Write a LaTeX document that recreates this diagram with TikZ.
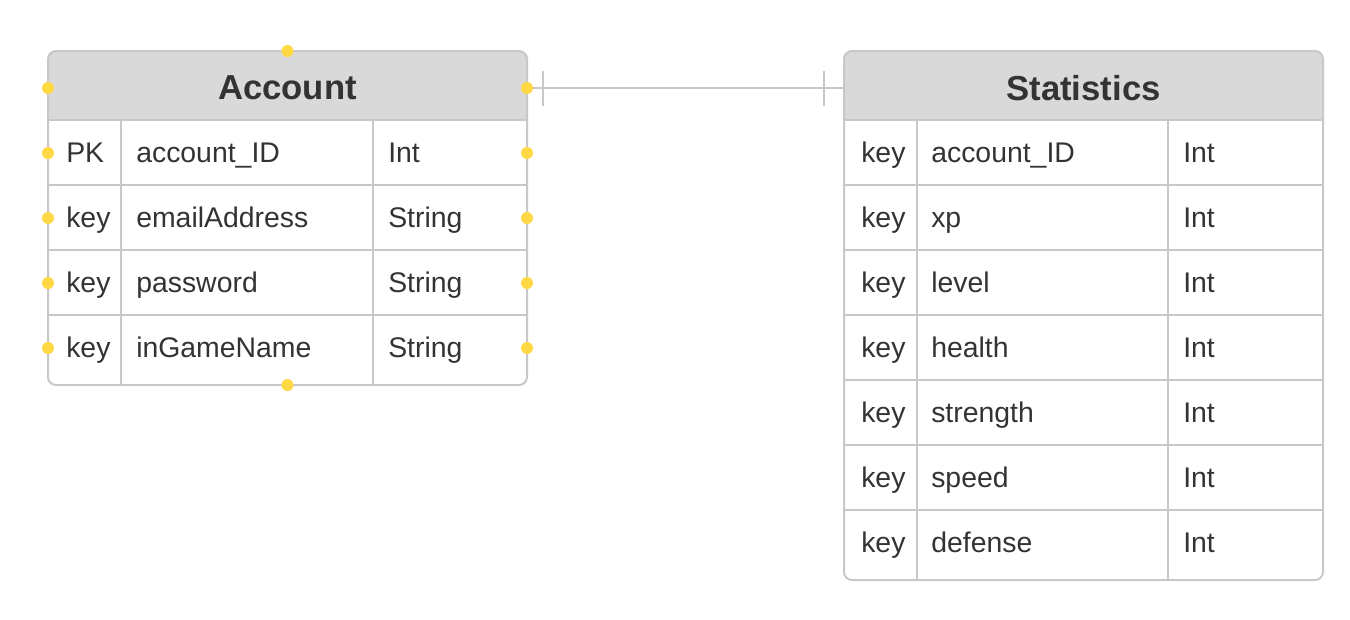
\documentclass[tikz,border=0pt]{standalone}
\usepackage{fontspec}
\setmainfont{Liberation Sans}

\definecolor{hdrgray}{HTML}{D9D9D9}
\definecolor{linegray}{HTML}{C8C8C8}
\definecolor{txtgray}{HTML}{333333}
\definecolor{dotyellow}{HTML}{FFD843}

\tikzset{
  frame/.style={draw=linegray, line width=1.5pt},
  link/.style={draw=linegray, line width=1.5pt},
  cell/.style={anchor=base west, text=txtgray, inner sep=0pt, font=\fontsize{21.3}{25}\selectfont},
  title/.style={text=txtgray, inner sep=0pt, minimum width=359.25pt, minimum height=51.75pt, font=\fontsize{26}{31}\selectfont\bfseries},
  dot/.style={fill=dotyellow}
}

\begin{document}
\begin{tikzpicture}[x=0.75pt, y=-0.75pt]
\useasboundingbox (0,0) rectangle (1350,619);

% Account table
\begin{scope}
  \clip[rounded corners=6pt] (48,51) rectangle (527,385);
  \fill[hdrgray] (48,51) rectangle (527,120);
\end{scope}
\foreach \y in {120,185,250,315}
  \draw[frame] (48,\y) -- (527,\y);
\draw[frame] (121,120) -- (121,385);
\draw[frame] (373,120) -- (373,385);
\draw[frame, rounded corners=6pt] (48,51) rectangle (527,385);
\node[title] (acc) at (287.5,88) {Account};
\foreach \k/\n/\t [count=\i from 0] in {PK/account\_ID/Int, key/emailAddress/String, key/password/String, key/inGameName/String} {
  \node[cell] (acck\i) at (66,162+65*\i) {\k};
  \node[cell] (accn\i) at (136,162+65*\i) {\n};
  \node[cell] (acct\i) at (388,162+65*\i) {\t};
}

% Statistics table
\begin{scope}
  \clip[rounded corners=6pt] (844,51) rectangle (1323,580);
  \fill[hdrgray] (844,51) rectangle (1323,120);
\end{scope}
\foreach \y in {120,185,250,315,380,445,510}
  \draw[frame] (844,\y) -- (1323,\y);
\draw[frame] (917,120) -- (917,580);
\draw[frame] (1168,120) -- (1168,580);
\draw[frame, rounded corners=6pt] (844,51) rectangle (1323,580);
\node[title] (stat) at (1083.5,88) {Statistics};
\foreach \n [count=\i from 0] in {account\_ID, xp, level, health, strength, speed, defense} {
  \node[cell] (statk\i) at (861,162+65*\i) {key};
  \node[cell] (statn\i) at (931,162+65*\i) {\n};
  \node[cell] (statt\i) at (1183,162+65*\i) {Int};
}

% one-to-one link
\draw[link] (acc.east) -- (stat.west);
\draw[link] (acc.east) ++(16,-17) -- ++(0,35);
\draw[link] (stat.west) ++(-20,-17) -- ++(0,35);

% selection handles
\foreach \p in {(48,88),(287.5,51),(527,88),(287.5,385)}
  \fill[dot] \p circle (4.5pt);
\foreach \y in {153,218,283,348} {
  \fill[dot] (48,\y) circle (4.5pt);
  \fill[dot] (527,\y) circle (4.5pt);
}
\end{tikzpicture}
\end{document}
